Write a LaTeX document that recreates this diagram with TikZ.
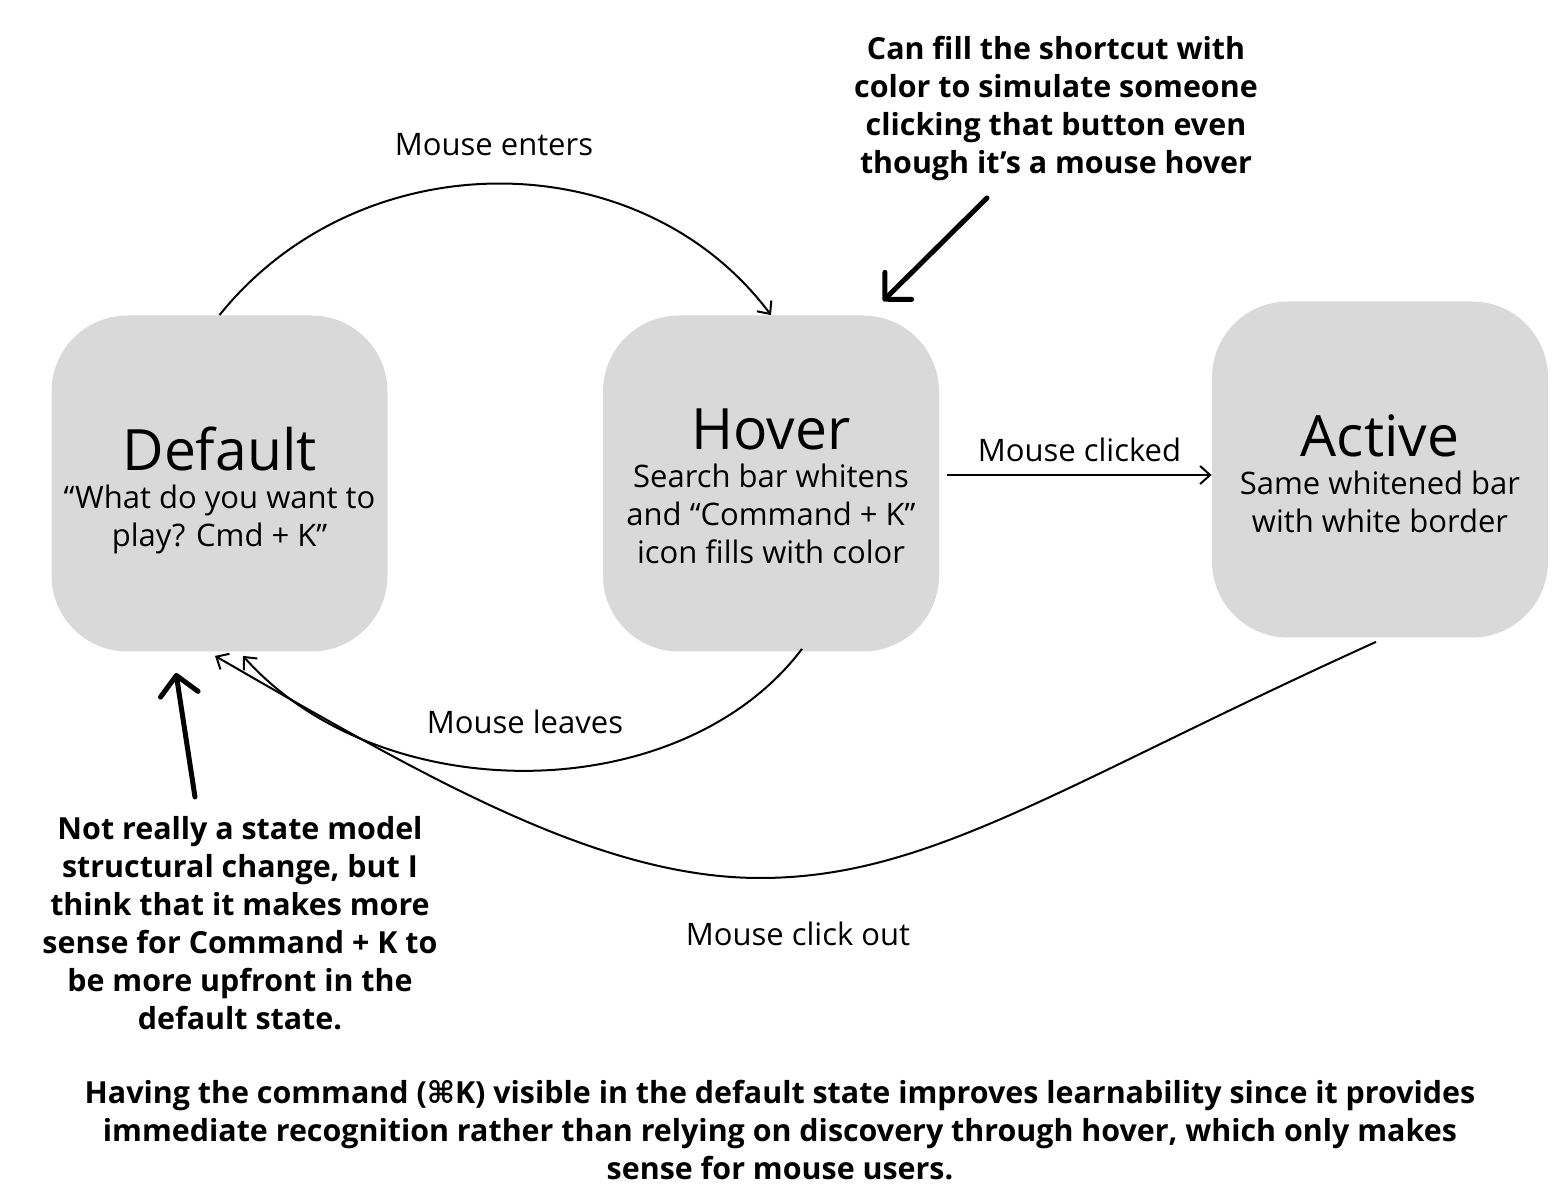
\documentclass[tikz,border=0pt]{standalone}
\usepackage{fontspec}
\setmainfont{Open Sans}
\newfontfamily\symfont{DejaVu Sans}
\usetikzlibrary{arrows.meta}
\definecolor{boxgray}{HTML}{D9D9D9}

\begin{document}
\begin{tikzpicture}[x=0.5pt, y=-0.5pt,
    state/.style={fill=boxgray, rounded corners=38pt, minimum width=168pt, minimum height=168pt, inner sep=0pt},
    statetext/.style={align=center, font=\fontsize{15.5}{19}\selectfont},
    edge/.style={line width=1pt, -{Straight Barb[length=5pt, width=9pt]}},
    lbl/.style={font=\fontsize{15.5}{19}\selectfont},
    annot/.style={align=center, font=\bfseries\fontsize{15.2}{19}\selectfont},
    pointer/.style={line width=2.5pt, line cap=round, line join=round,
      -{Straight Barb[length=9.5pt, width=19pt, line cap=round, line join=round]}}]
    \useasboundingbox (0,0) rectangle (1564,1202);

    \node[state] (default) at (219.5,483.5) {};
    \node[state] (hover) at (771,483.5) {};
    \node[state] (active) at (1380,469.5) {};
    \node[statetext, yshift=-3.5pt] (defaulttext) at (default) {{\fontsize{28.5}{30}\selectfont Default}\\“What do you want to\\play? Cmd + K”};
    \node[statetext, yshift=-1.5pt] (hovertext) at (hover) {{\fontsize{28.5}{30}\selectfont Hover}\\Search bar whitens\\and “Command + K”\\icon fills with color};
    \node[statetext, yshift=-2pt] (activetext) at (active) {{\fontsize{28.5}{30}\selectfont Active}\\Same whitened bar\\with white border};

    \draw[edge] (default.north) .. controls (360,140) and (640,140) .. (hover.north);
    \node[lbl] (enters) at (494,145) {Mouse enters};

    \draw[edge] ([shift={(8,-8.5)}]hover.east) -- node[lbl, above=3pt] (clicked) {Mouse clicked} ([shift={(0,5.5)}]active.west);

    \draw[edge] ([shift={(31,-3)}]hover.south) .. controls (680,810) and (380,810) .. ([shift={(23.5,4)}]default.south);
    \node[lbl] (leaves) at (525,722) {Mouse leaves};

    \draw[edge] ([shift={(-4,4)}]active.south) .. controls (1060,785) and (930,878) .. (760,878)
      .. controls (600,878) and (430,780) .. ([shift={(-4.5,4)}]default.south);
    \node[lbl] (clickout) at (798,934) {Mouse click out};

    \node[annot] (topnote) at (1056,108.5) {Can fill the shortcut with\\color to simulate someone\\clicking that button even\\though it’s a mouse hover};
    \coordinate (toptail) at (987,198);
    \coordinate (toptip) at (883,301);
    \draw[pointer] (toptail) -- (toptip);

    \node[annot] (leftnote) at (240,923.5) {Not really a state model\\structural change, but I\\think that it makes more\\sense for Command + K to\\be more upfront in the\\default state.};
    \coordinate (lefttail) at (195,797);
    \coordinate (lefttip) at (176,673);
    \draw[pointer] (lefttail) -- (lefttip);

    \node[annot] (summary) at (780,1130) {Having the command ({\symfont\bfseries ⌘}K) visible in the default state improves learnability since it provides\\immediate recognition rather than relying on discovery through hover, which only makes\\sense for mouse users.};
\end{tikzpicture}
\end{document}
